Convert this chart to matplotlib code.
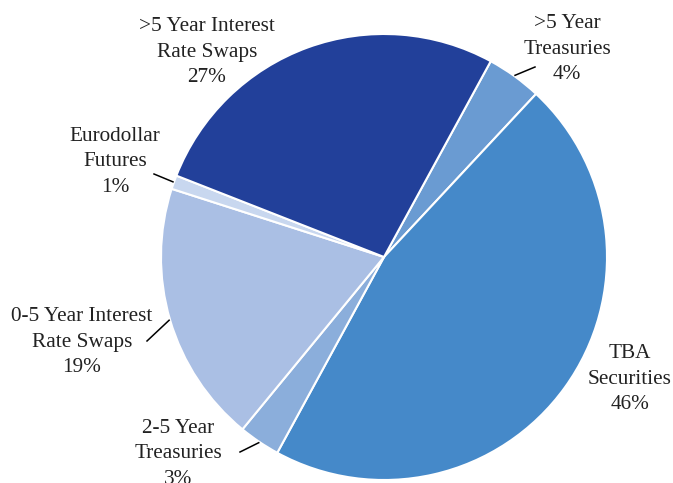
import matplotlib.pyplot as plt
import numpy as np

labels = ['>5 Year\nTreasuries', 'TBA\nSecurities', '2-5 Year\nTreasuries',
          '0-5 Year Interest\nRate Swaps', 'Eurodollar\nFutures',
          '>5 Year Interest\nRate Swaps']
shares = [4, 46, 3, 19, 1, 27]
colors = ['#6A9BD2', '#4589C9', '#8BAEDB', '#AABFE4', '#C8D7EF', '#22409A']

# label text centers (pixel coords, y from top) and leader line outer end (None = no line)
label_pos = [(567, 49), (630, 379), (178, 454), (82, 342), (115, 162), (207, 52)]
leader_start = [(535, 67), None, (240, 452), (147, 341), (154, 174), None]

W, H = 673, 483
fig = plt.figure(figsize=(W / 100, H / 100), dpi=100)
ax = fig.add_axes([0, 0, 1, 1])

cx, cy, R = 384, H - 257, 223
start = 61.4
wedges, _ = ax.pie(shares, colors=colors, startangle=start, counterclock=False,
                   center=(cx, cy), radius=R, frame=True,
                   wedgeprops=dict(edgecolor='white', linewidth=1.5))
ax.set_xlim(0, W)
ax.set_ylim(0, H)
ax.set_aspect('equal')
ax.axis('off')

for i, (lab, val) in enumerate(zip(labels, shares)):
    tx, ty = label_pos[i]
    ax.text(tx, H - ty, f'{lab}\n{val}%', ha='center', va='center',
            fontsize=15.3, family='Liberation Serif', color='#222222',
            linespacing=1.46)
    if leader_start[i] is not None:
        w = wedges[i]
        mid = np.radians((w.theta1 + w.theta2) / 2)
        ex, ey = cx + (R + 1) * np.cos(mid), cy + (R + 1) * np.sin(mid)
        sx, sy = leader_start[i]
        ax.plot([sx, ex], [H - sy, ey], color='black', lw=1.1)

plt.savefig('out.png', dpi=100)
